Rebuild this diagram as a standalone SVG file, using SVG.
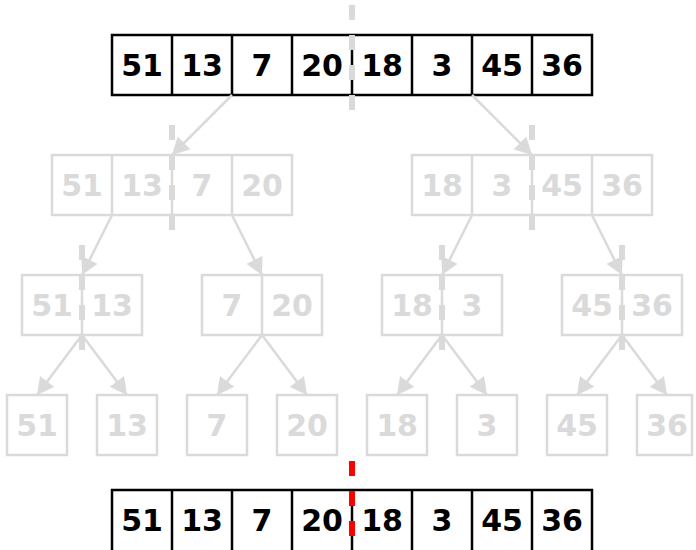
<svg xmlns="http://www.w3.org/2000/svg" width="696" height="550" viewBox="0 0 696 550">
<style>
  .blk rect, .blk line { fill: none; stroke: #000; stroke-width: 2.5; }
  .blk rect { fill: #fff; }
  .gry rect, .gry line { fill: none; stroke: #dadada; stroke-width: 2.5; }
  text { font-family: "DejaVu Sans", Verdana, sans-serif; font-weight: bold; font-size: 30px; text-anchor: middle; }
  .blk text { fill: #000; }
  .gry text { fill: #dadada; }
  .conn line { stroke: #dadada; stroke-width: 2.5; marker-end: url(#ah); }
  .split { stroke: #dadada; stroke-width: 6; stroke-dasharray: 15 15; fill: none; }
  .split.red { stroke: #ff0000; }
</style>
<defs>
  <marker id="ah" markerUnits="userSpaceOnUse" markerWidth="18" markerHeight="18" refX="17" refY="9" orient="auto" viewBox="0 0 18 18">
    <path d="M0,0 L17,9 L0,18 z" fill="#dadada"/>
  </marker>
</defs>

<g id="top-array" class="blk">
  <rect x="112" y="35" width="480" height="60"/>
  <line x1="172" y1="35" x2="172" y2="95"/>
  <line x1="232" y1="35" x2="232" y2="95"/>
  <line x1="292" y1="35" x2="292" y2="95"/>
  <line x1="352" y1="35" x2="352" y2="95"/>
  <line x1="412" y1="35" x2="412" y2="95"/>
  <line x1="472" y1="35" x2="472" y2="95"/>
  <line x1="532" y1="35" x2="532" y2="95"/>
  <text x="142" y="75.5">51</text>
  <text x="202" y="75.5">13</text>
  <text x="262" y="75.5">7</text>
  <text x="322" y="75.5">20</text>
  <text x="382" y="75.5">18</text>
  <text x="442" y="75.5">3</text>
  <text x="502" y="75.5">45</text>
  <text x="562" y="75.5">36</text>
</g>

<g id="left-half" class="gry">
  <rect x="52" y="155" width="240" height="60"/>
  <line x1="112" y1="155" x2="112" y2="215"/>
  <line x1="172" y1="155" x2="172" y2="215"/>
  <line x1="232" y1="155" x2="232" y2="215"/>
  <text x="82" y="195.5">51</text>
  <text x="142" y="195.5">13</text>
  <text x="202" y="195.5">7</text>
  <text x="262" y="195.5">20</text>
</g>

<g id="right-half" class="gry">
  <rect x="412" y="155" width="240" height="60"/>
  <line x1="472" y1="155" x2="472" y2="215"/>
  <line x1="532" y1="155" x2="532" y2="215"/>
  <line x1="592" y1="155" x2="592" y2="215"/>
  <text x="442" y="195.5">18</text>
  <text x="502" y="195.5">3</text>
  <text x="562" y="195.5">45</text>
  <text x="622" y="195.5">36</text>
</g>

<g id="pair-51-13" class="gry">
  <rect x="22" y="275" width="120" height="60"/>
  <line x1="82" y1="275" x2="82" y2="335"/>
  <text x="52" y="315.5">51</text>
  <text x="112" y="315.5">13</text>
</g>
<g id="pair-7-20" class="gry">
  <rect x="202" y="275" width="120" height="60"/>
  <line x1="262" y1="275" x2="262" y2="335"/>
  <text x="232" y="315.5">7</text>
  <text x="292" y="315.5">20</text>
</g>
<g id="pair-18-3" class="gry">
  <rect x="382" y="275" width="120" height="60"/>
  <line x1="442" y1="275" x2="442" y2="335"/>
  <text x="412" y="315.5">18</text>
  <text x="472" y="315.5">3</text>
</g>
<g id="pair-45-36" class="gry">
  <rect x="562" y="275" width="120" height="60"/>
  <line x1="622" y1="275" x2="622" y2="335"/>
  <text x="592" y="315.5">45</text>
  <text x="652" y="315.5">36</text>
</g>

<g id="leaf-51" class="gry"><rect x="7" y="395" width="60" height="60"/><text x="37" y="435.5">51</text></g>
<g id="leaf-13" class="gry"><rect x="97" y="395" width="60" height="60"/><text x="127" y="435.5">13</text></g>
<g id="leaf-7" class="gry"><rect x="187" y="395" width="60" height="60"/><text x="217" y="435.5">7</text></g>
<g id="leaf-20" class="gry"><rect x="277" y="395" width="60" height="60"/><text x="307" y="435.5">20</text></g>
<g id="leaf-18" class="gry"><rect x="367" y="395" width="60" height="60"/><text x="397" y="435.5">18</text></g>
<g id="leaf-3" class="gry"><rect x="457" y="395" width="60" height="60"/><text x="487" y="435.5">3</text></g>
<g id="leaf-45" class="gry"><rect x="547" y="395" width="60" height="60"/><text x="577" y="435.5">45</text></g>
<g id="leaf-36" class="gry"><rect x="637" y="395" width="55" height="60"/><text x="667" y="435.5">36</text></g>

<g id="bottom-array" class="blk">
  <rect x="112" y="490" width="480" height="62"/>
  <line x1="172" y1="490" x2="172" y2="552"/>
  <line x1="232" y1="490" x2="232" y2="552"/>
  <line x1="292" y1="490" x2="292" y2="552"/>
  <line x1="352" y1="490" x2="352" y2="552"/>
  <line x1="412" y1="490" x2="412" y2="552"/>
  <line x1="472" y1="490" x2="472" y2="552"/>
  <line x1="532" y1="490" x2="532" y2="552"/>
  <text x="142" y="530.5">51</text>
  <text x="202" y="530.5">13</text>
  <text x="262" y="530.5">7</text>
  <text x="322" y="530.5">20</text>
  <text x="382" y="530.5">18</text>
  <text x="442" y="530.5">3</text>
  <text x="502" y="530.5">45</text>
  <text x="562" y="530.5">36</text>
</g>

<g id="connectors" class="conn">
  <line x1="232" y1="95" x2="172" y2="155"/>
  <line x1="472" y1="95" x2="532" y2="155"/>
  <line x1="112" y1="215" x2="82" y2="275"/>
  <line x1="232" y1="215" x2="262" y2="275"/>
  <line x1="472" y1="215" x2="442" y2="275"/>
  <line x1="592" y1="215" x2="622" y2="275"/>
  <line x1="82" y1="335" x2="37" y2="395"/>
  <line x1="82" y1="335" x2="127" y2="395"/>
  <line x1="262" y1="335" x2="217" y2="395"/>
  <line x1="262" y1="335" x2="307" y2="395"/>
  <line x1="442" y1="335" x2="397" y2="395"/>
  <line x1="442" y1="335" x2="487" y2="395"/>
  <line x1="622" y1="335" x2="577" y2="395"/>
  <line x1="622" y1="335" x2="667" y2="395"/>
</g>

<g id="split-lines">
  <line class="split" x1="352" y1="5" x2="352" y2="110"/>
  <line class="split" x1="172" y1="125" x2="172" y2="230"/>
  <line class="split" x1="532" y1="125" x2="532" y2="230"/>
  <line class="split" x1="82" y1="245" x2="82" y2="350"/>
  <line class="split" x1="442" y1="245" x2="442" y2="350"/>
  <line class="split" x1="622" y1="245" x2="622" y2="350"/>
  <line class="split red" x1="352" y1="461" x2="352" y2="550"/>
</g>
</svg>
